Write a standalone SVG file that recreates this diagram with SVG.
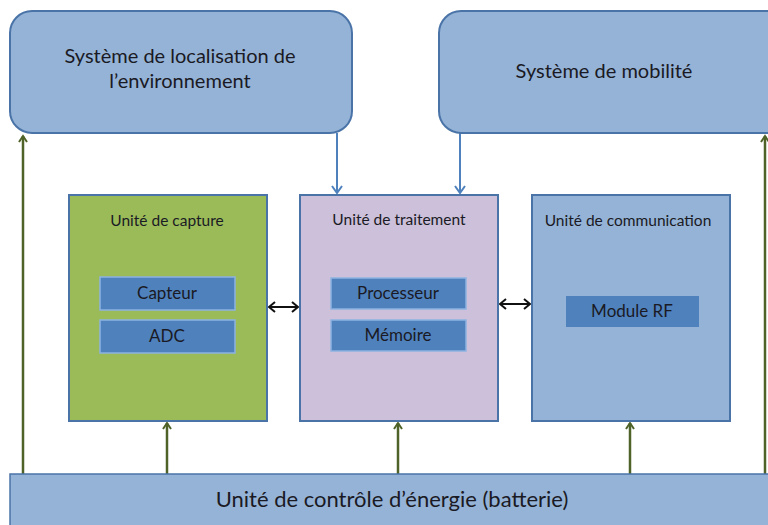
<svg xmlns="http://www.w3.org/2000/svg" width="768" height="525" viewBox="0 0 768 525">
<style>
text{font-family:Lato,"Open Sans","Liberation Sans",sans-serif;fill:#1a1a24;text-anchor:middle}
.sys{fill:#95b3d7;stroke:#4a74a8;stroke-width:2}
.unit{stroke:#4a74a8;stroke-width:2}
.inner{fill:#4f81bd;stroke:#8db3e2;stroke-width:1.5}
.g{stroke:#4f6228;stroke-width:2.5;fill:none;marker-end:url(#ag)}
.b{stroke:#4f81bd;stroke-width:2;fill:none;marker-end:url(#ab)}
.k{stroke:#111;stroke-width:2;fill:none;marker-start:url(#ak);marker-end:url(#ak)}
</style>
<defs>
<marker id="ag" markerWidth="10" markerHeight="10" refX="7" refY="5" orient="auto" markerUnits="userSpaceOnUse"><path d="M1,1 L7,5 L1,9" fill="none" stroke="#4f6228" stroke-width="2"/></marker>
<marker id="ab" markerWidth="12" markerHeight="12" refX="8" refY="6" orient="auto" markerUnits="userSpaceOnUse"><path d="M1,1 L8,6 L1,11" fill="none" stroke="#4f81bd" stroke-width="2"/></marker>
<marker id="ak" markerWidth="10" markerHeight="12" refX="8" refY="6" orient="auto-start-reverse" markerUnits="userSpaceOnUse"><path d="M2,1 L8,6 L2,11" fill="none" stroke="#111" stroke-width="2"/></marker>
</defs>
<g id="connectors">
<path class="g" d="M23,474 V136"/>
<path class="g" d="M765,474 V136"/>
<path class="g" d="M167,474 V423"/>
<path class="g" d="M398,474 V423"/>
<path class="g" d="M630,474 V423"/>
<path class="b" d="M337,133 V193"/>
<path class="b" d="M460,133 V193"/>
<path class="k" d="M269,307 H298"/>
<path class="k" d="M500,304 H530"/>
</g>
<g id="localisation">
<rect class="sys" x="10" y="11" width="342" height="122" rx="22"/>
<text x="180" y="63" font-size="20">Système de localisation de</text>
<text x="180" y="88" font-size="20">l’environnement</text>
</g>
<g id="mobilite">
<rect class="sys" x="439" y="11" width="350" height="122" rx="22"/>
<text x="604" y="78" font-size="20">Système de mobilité</text>
</g>
<g id="capture">
<rect class="unit" x="69" y="195" width="198" height="226" fill="#9bbb59"/>
<text x="167" y="226" font-size="15.5">Unité de capture</text>
</g>
<g id="capteur">
<rect class="inner" x="100" y="277" width="135" height="33"/>
<text x="167" y="299" font-size="17">Capteur</text>
</g>
<g id="adc">
<rect class="inner" x="100" y="320" width="135" height="33"/>
<text x="167" y="342" font-size="17">ADC</text>
</g>
<g id="traitement">
<rect class="unit" x="300" y="195" width="198" height="226" fill="#ccc0da"/>
<text x="399" y="225" font-size="15.5">Unité de traitement</text>
</g>
<g id="processeur">
<rect class="inner" x="331" y="278" width="135" height="31"/>
<text x="398" y="299" font-size="17">Processeur</text>
</g>
<g id="memoire">
<rect class="inner" x="331" y="320" width="135" height="31"/>
<text x="398" y="341" font-size="17">Mémoire</text>
</g>
<g id="communication">
<rect class="unit" x="532" y="195" width="198" height="226" fill="#95b3d7"/>
<text x="628" y="226" font-size="15.5">Unité de communication</text>
</g>
<g id="rf">
<rect x="566" y="296" width="133" height="31" fill="#4f81bd"/>
<text x="632" y="317" font-size="17">Module RF</text>
</g>
<g id="energie">
<rect x="10" y="474" width="770" height="60" fill="#95b3d7" stroke="#4a74a8" stroke-width="1.5"/>
<text x="392" y="507" font-size="22">Unité de contrôle d’énergie (batterie)</text>
</g>
</svg>
